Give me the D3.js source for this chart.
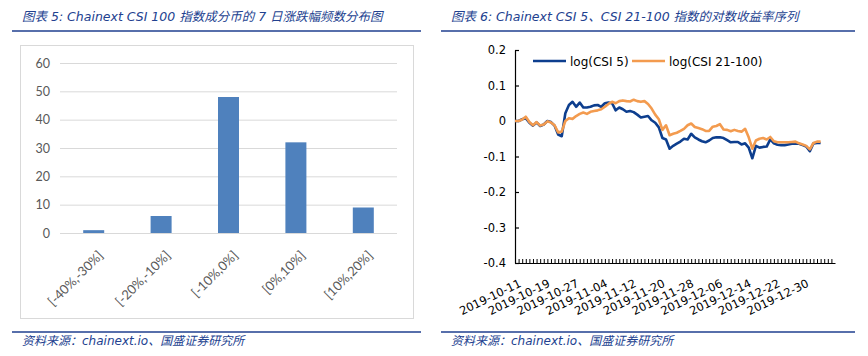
<!DOCTYPE html>
<html><head><meta charset="utf-8">
<script src="https://cdn.jsdelivr.net/npm/d3@7"></script>
<style>
html,body{margin:0;padding:0;background:#fff;}
svg{display:block;}
</style></head>
<body>
<svg id="c" width="868" height="356"></svg>
<script>
// ---------- data ----------
const titleLeft = "图表 5: Chainext CSI 100 指数成分币的 7 日涨跌幅频数分布图";
const titleRight = "图表 6: Chainext CSI 5、CSI 21-100 指数的对数收益率序列";
const sourceText = "资料来源：chainext.io、国盛证券研究所";

const histCategories = ["[-40%,-30%]", "[-20%,-10%]", "[-10%,0%]", "[0%,10%]", "[10%,20%]"];
const histCounts = [1, 6, 48, 32, 9];
const histTicks = [0, 10, 20, 30, 40, 50, 60];

const seriesNames = ["log(CSI 5)", "log(CSI 21-100)"];
const startDate = "2019-10-11";
const axisEndDate = "2020-01-08";
const csi5 = [0.000,0.000,0.005,0.008,-0.005,-0.013,-0.004,-0.014,-0.010,0.000,
  -0.003,-0.013,-0.038,-0.043,0.022,0.045,0.054,0.040,0.052,0.038,
  0.038,0.040,0.044,0.045,0.040,0.050,0.052,0.050,0.030,0.038,
  0.033,0.026,0.028,0.025,0.018,0.010,0.012,0.014,0.002,-0.005,
  -0.018,-0.048,-0.052,-0.078,-0.070,-0.064,-0.058,-0.050,-0.052,-0.036,
  -0.046,-0.052,-0.057,-0.060,-0.055,-0.048,-0.046,-0.046,-0.048,-0.054,
  -0.060,-0.059,-0.059,-0.066,-0.063,-0.075,-0.105,-0.070,-0.075,-0.073,
  -0.072,-0.052,-0.063,-0.067,-0.068,-0.068,-0.066,-0.064,-0.063,-0.064,
  -0.068,-0.072,-0.085,-0.063,-0.062,-0.062];
const csi21 = [0.000,0.000,0.004,0.012,-0.003,-0.012,-0.003,-0.013,-0.010,-0.001,
  -0.004,-0.012,-0.032,-0.030,0.000,0.008,0.006,0.014,0.020,0.024,
  0.020,0.026,0.028,0.030,0.033,0.040,0.048,0.054,0.050,0.056,
  0.058,0.056,0.055,0.060,0.056,0.054,0.056,0.048,0.035,0.018,
  0.005,-0.025,-0.012,-0.040,-0.036,-0.033,-0.028,-0.022,-0.012,-0.007,
  -0.017,-0.020,-0.023,-0.028,-0.028,-0.016,-0.014,-0.009,-0.024,-0.025,
  -0.029,-0.025,-0.028,-0.030,-0.022,-0.046,-0.078,-0.055,-0.050,-0.048,
  -0.052,-0.045,-0.057,-0.060,-0.060,-0.060,-0.060,-0.059,-0.058,-0.063,
  -0.066,-0.070,-0.080,-0.062,-0.058,-0.058];
const dateLabels = ["2019-10-11","2019-10-19","2019-10-27","2019-11-04","2019-11-12","2019-11-20",
  "2019-11-28","2019-12-06","2019-12-14","2019-12-22","2019-12-30"];
const rightTicks = [0.2, 0.1, 0, -0.1, -0.2, -0.3, -0.4];

// ---------- styles ----------
const navy = "#1f3f8f";
const titleColor = "#22418f";
const blue = "#0d3e8e";
const orange = "#f39b4f";
const barColor = "#4f81bd";
const cjk = "'DejaVu Sans','Noto Sans CJK SC',sans-serif";

const svg = d3.select("#c");
const parse = d3.utcParse("%Y-%m-%d");

// ---------- header / footer ----------
[[12, 421, 22, titleLeft], [441, 855, 451, titleRight]].forEach(([x0, x1, tx, t]) => {
  svg.append("text").attr("x", tx).attr("y", 21)
    .attr("font-family", cjk).attr("font-size", 12.5).attr("font-style", "italic")
    .attr("fill", titleColor).text(t);
  svg.append("line").attr("x1", x0).attr("x2", x1).attr("y1", 31).attr("y2", 31)
    .attr("stroke", navy).attr("stroke-width", 1.6);
  svg.append("line").attr("x1", x0).attr("x2", x1).attr("y1", 332).attr("y2", 332)
    .attr("stroke", navy).attr("stroke-width", 1.6);
  svg.append("text").attr("x", tx).attr("y", 345)
    .attr("font-family", cjk).attr("font-size", 12).attr("font-style", "italic")
    .attr("fill", titleColor).text(sourceText);
});

// ---------- left chart ----------
svg.append("rect").attr("x", 20.5).attr("y", 45.5).attr("width", 393).attr("height", 273)
  .attr("fill", "#fff").attr("stroke", "#d9d9d9").attr("stroke-width", 1);

const gl = svg.append("g");
const xL = d3.scaleBand().domain(histCategories).range([60, 397]);
const yL = d3.scaleLinear().domain([0, 60]).range([233, 63]);

const yAxisL = d3.axisLeft(yL).tickValues(histTicks).tickSize(-(397 - 60)).tickPadding(10);
const ga = gl.append("g").attr("transform", "translate(60,0)").call(yAxisL);
ga.select(".domain").remove();
ga.selectAll("line").attr("stroke", "#d9d9d9");
ga.selectAll("text").attr("font-family", "Lato, 'Liberation Sans', sans-serif").attr("font-size", 12.5).attr("fill", "#595959");

const bw = 21;
gl.selectAll("rect.bar").data(histCounts).enter().append("rect").attr("class", "bar")
  .attr("x", (d, i) => xL(histCategories[i]) + xL.bandwidth() / 2 - bw / 2)
  .attr("width", bw)
  .attr("y", d => yL(d))
  .attr("height", d => yL(0) - yL(d))
  .attr("fill", barColor);

gl.selectAll("text.xl").data(histCategories).enter().append("text").attr("class", "xl")
  .attr("transform", d => `translate(${xL(d) + xL.bandwidth() / 2 + 7},${253}) rotate(-45)`)
  .attr("text-anchor", "end").attr("dy", "0.35em")
  .attr("font-family", "Lato, 'Liberation Sans', sans-serif").attr("font-size", 13).attr("fill", "#595959")
  .text(d => d);

// ---------- right chart ----------
const gr = svg.append("g");
const t0 = parse(startDate), t1 = parse(axisEndDate);
const xR = d3.scaleUtc().domain([t0, t1]).range([515, 835]);
const yR = d3.scaleLinear().domain([-0.4, 0.2]).range([263, 50]);
const days = csi5.map((_, i) => d3.utcDay.offset(t0, i));

const yAxisR = d3.axisLeft(yR).tickValues(rightTicks).tickSizeInner(-4).tickSizeOuter(0).tickPadding(9)
  .tickFormat(d => d === 0 ? "0" : d3.format(".1f")(d).replace("−", "-"));
const gy = gr.append("g").attr("transform", "translate(515,0)").call(yAxisR);
gy.selectAll("path,line").attr("stroke", "#000").attr("stroke-width", 1.2);
gy.selectAll("text").attr("font-family", "'DejaVu Sans',sans-serif").attr("font-size", 11.5).attr("fill", "#000");

const xAxisR = d3.axisBottom(xR).tickValues(d3.utcDay.range(t0, t1)).tickSizeInner(-4).tickSizeOuter(0).tickFormat("");
const gx = gr.append("g").attr("transform", "translate(0,263)").call(xAxisR);
gx.selectAll("path,line").attr("stroke", "#000").attr("stroke-width", 1);
gx.select(".domain").attr("stroke-width", 1.2);

gr.selectAll("text.xd").data(dateLabels).enter().append("text").attr("class", "xd")
  .attr("transform", d => `translate(${xR(parse(d)) + 7},${286}) rotate(-26)`)
  .attr("text-anchor", "end")
  .attr("font-family", "'DejaVu Sans',sans-serif").attr("font-size", 11.5).attr("fill", "#000")
  .text(d => d);

const line = d3.line().x((d, i) => xR(days[i])).y(d => yR(d));
gr.append("path").datum(csi5).attr("d", line).attr("fill", "none")
  .attr("stroke", blue).attr("stroke-width", 2.6).attr("stroke-linejoin", "round");
gr.append("path").datum(csi21).attr("d", line).attr("fill", "none")
  .attr("stroke", orange).attr("stroke-width", 2.6).attr("stroke-linejoin", "round");

// legend
const legend = [[533, 566, 570, blue, seriesNames[0]], [632, 665, 669, orange, seriesNames[1]]];
legend.forEach(([a, b, tx, col, name]) => {
  gr.append("line").attr("x1", a).attr("x2", b).attr("y1", 61).attr("y2", 61)
    .attr("stroke", col).attr("stroke-width", 2.6);
  gr.append("text").attr("x", tx).attr("y", 65.5)
    .attr("font-family", "'DejaVu Sans',sans-serif").attr("font-size", 12).attr("fill", "#000").text(name);
});
</script>
</body></html>
